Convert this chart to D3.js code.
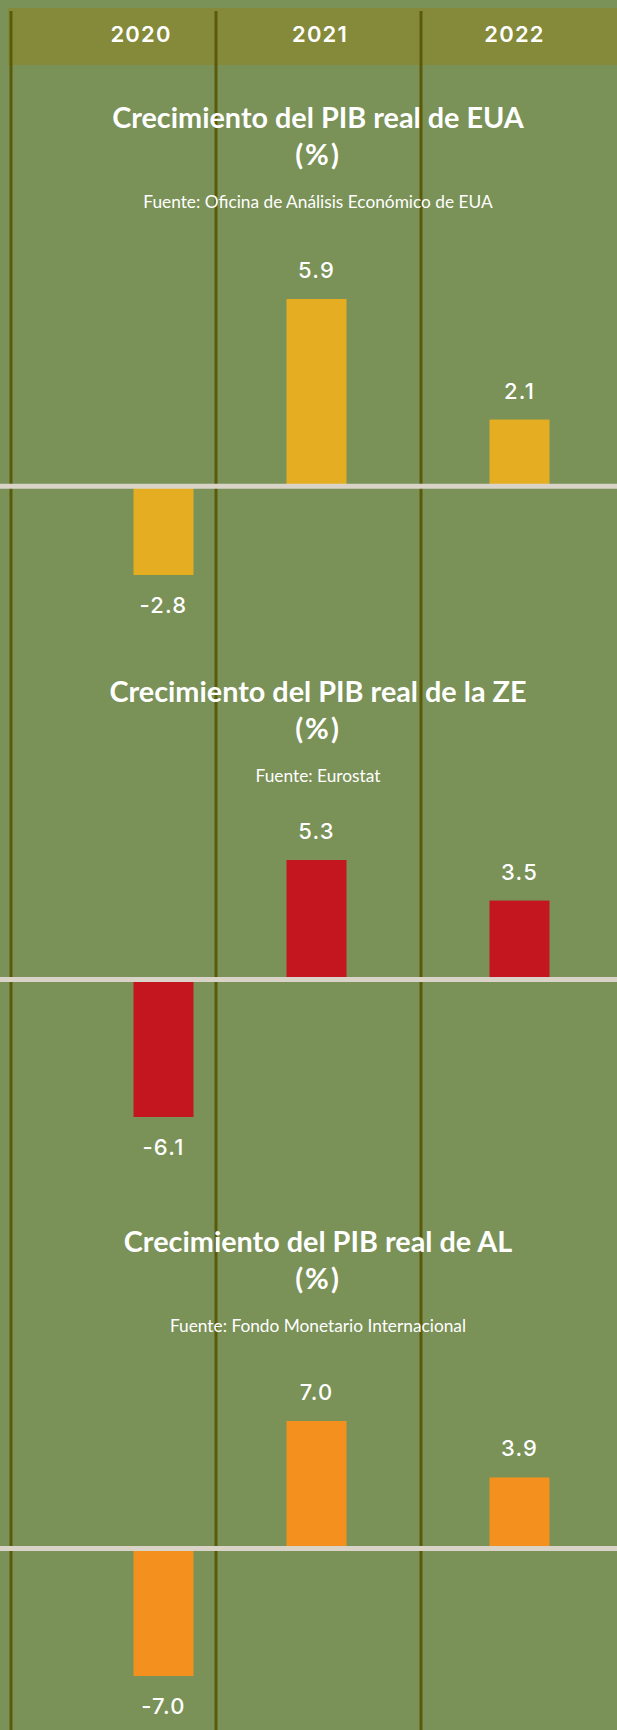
<!DOCTYPE html>
<html>
<head>
<meta charset="utf-8">
<script src="https://cdn.jsdelivr.net/npm/d3@7"></script>
<style>
  html, body { margin: 0; padding: 0; background: #7a9157; }
  svg { display: block; }
</style>
</head>
<body>
<div id="chart"></div>
<script>
// ---------- DATA ----------
const years = ["2020", "2021", "2022"];
const usaValues = [-2.8, 5.9, 2.1];
const ezValues = [-6.1, 5.3, 3.5];
const alValues = [-7.0, 7.0, 3.9];
const chartTitles = [
  "Crecimiento del PIB real de EUA",
  "Crecimiento del PIB real de la ZE",
  "Crecimiento del PIB real de AL"
];
const chartUnits = ["(%)", "(%)", "(%)"];
const chartSources = [
  "Fuente: Oficina de Análisis Económico de EUA",
  "Fuente: Eurostat",
  "Fuente: Fondo Monetario Internacional"
];
const seriesList = [usaValues, ezValues, alValues];
const barColors = ["#e5ae22", "#c4161f", "#f4911e"];

// ---------- LAYOUT ----------
const W = 617, H = 1730;
const bg = "#7a9157";
const headerColor = "#848a3a";
const colLineColor = "#5b5a0b";
const zeroLineColor = "#d9d4c7";
const titleBase = [128, 702, 1252];     // baseline of title line 1
const plotTop = [299, 860, 1421];       // pixel of max value
const plotBottom = [575, 1117, 1676];   // pixel of min value
const barCenters = [163.5, 316.5, 519.5];
const yearCenters = [141, 320, 514.5];

const svg = d3.select("#chart").append("svg")
  .attr("width", W).attr("height", H)
  .attr("viewBox", `0 0 ${W} ${H}`);

svg.append("rect").attr("width", W).attr("height", H).attr("fill", bg);

// header band
svg.append("rect")
  .attr("x", 8).attr("y", 8).attr("width", W - 8).attr("height", 57)
  .attr("fill", headerColor);

// column scale (column edges)
const xCol = d3.scaleBand().domain(years).range([11, 11 + 3 * 205]).padding(0);
const xBar = d3.scaleOrdinal().domain(years).range(barCenters);
const xYear = d3.scaleOrdinal().domain(years).range(yearCenters);
const barWidth = 60;

// column lines
svg.append("g").selectAll("line").data(years).join("line")
  .attr("x1", d => xCol(d)).attr("x2", d => xCol(d))
  .attr("y1", 11).attr("y2", H)
  .attr("stroke", colLineColor).attr("stroke-width", 3);

// year labels
svg.append("g").selectAll("text").data(years).join("text")
  .attr("x", d => xYear(d)).attr("y", 42)
  .attr("text-anchor", "middle")
  .attr("fill", "#ffffff")
  .attr("font-family", "Inter, 'Noto Sans', sans-serif")
  .attr("font-weight", 600)
  .attr("font-size", 22)
  .attr("letter-spacing", 1.2)
  .text(d => d);

// charts
seriesList.forEach((values, i) => {
  const g = svg.append("g");
  const cx = 318;
  const tFont = "Lato, 'Open Sans', sans-serif";

  g.append("text")
    .attr("x", cx).attr("y", titleBase[i])
    .attr("text-anchor", "middle").attr("fill", "#fff")
    .attr("font-family", tFont).attr("font-weight", 700).attr("font-size", 28.8)
    .text(chartTitles[i]);
  g.append("text")
    .attr("x", cx).attr("y", titleBase[i] + 37)
    .attr("text-anchor", "middle").attr("fill", "#fff")
    .attr("font-family", tFont).attr("font-weight", 700).attr("font-size", 29)
    .attr("letter-spacing", 2)
    .text(chartUnits[i]);
  g.append("text")
    .attr("x", cx).attr("y", titleBase[i] + 80)
    .attr("text-anchor", "middle").attr("fill", "#fff")
    .attr("font-family", tFont).attr("font-weight", 400).attr("font-size", 17.3)
    .text(chartSources[i]);

  const y = d3.scaleLinear()
    .domain([d3.min(values), d3.max(values)])
    .range([plotBottom[i], plotTop[i]]);
  const data = years.map((yr, j) => ({ year: yr, value: values[j] }));

  g.append("g").selectAll("rect").data(data).join("rect")
    .attr("x", d => xBar(d.year) - barWidth / 2)
    .attr("width", barWidth)
    .attr("y", d => Math.min(y(d.value), y(0)))
    .attr("height", d => Math.abs(y(d.value) - y(0)))
    .attr("fill", barColors[i]);

  // zero line
  g.append("line")
    .attr("x1", 0).attr("x2", W)
    .attr("y1", y(0)).attr("y2", y(0))
    .attr("stroke", zeroLineColor).attr("stroke-width", 5);

  // value labels
  g.append("g").selectAll("text").data(data).join("text")
    .attr("x", d => xBar(d.year))
    .attr("y", d => d.value >= 0 ? y(d.value) - 21 : y(d.value) + 38)
    .attr("text-anchor", "middle").attr("fill", "#fff")
    .attr("font-family", "Inter, 'Noto Sans', sans-serif")
    .attr("font-weight", 500).attr("font-size", 22)
    .attr("letter-spacing", 1.2)
    .text(d => d.value.toFixed(1));
});
</script>
</body>
</html>
